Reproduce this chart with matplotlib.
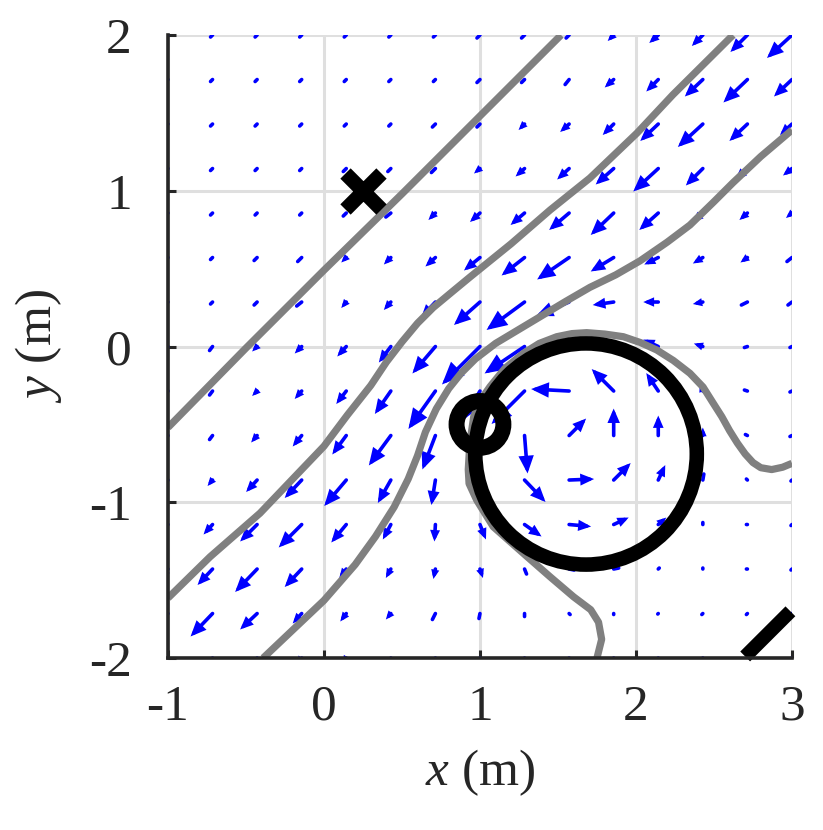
import numpy as np
import matplotlib
matplotlib.use("Agg")
import matplotlib.pyplot as plt
from matplotlib.patches import Circle, FancyArrowPatch, ArrowStyle

plt.rcParams['font.family'] = 'Liberation Serif'
plt.rcParams['mathtext.fontset'] = 'custom'
plt.rcParams['mathtext.rm'] = 'Liberation Serif'
plt.rcParams['mathtext.it'] = 'Liberation Serif:italic'
plt.rcParams['axes.unicode_minus'] = False

# grille du champ de vitesse
gx = np.linspace(-1, 3, 15)
gy = np.linspace(-2, 2, 15)
echelle = 156.0  # unites de vecteur par metre affiche

# composantes, lignes de y=2 (haut) a y=-2 (bas)
U_rows = [
    [-1, -2, -2, -2, -2, -2, -2, -3, -3, -3, -6, -9, -11, -17, -25],
    [-1, -2, -2, -2, -2, -2, -2, -3, -3, -4, -9, -12, -18, -24, -18],
    [-1, -2, -2, -2, -2, -2, -3, -3, -6, -9, -11, -18, -25, -18, -12],
    [-1, -2, -2, -2, -3, -3, -4, -6, -9, -12, -18, -25, -17, -12, -9],
    [-1, -2, -2, -2, -3, -5, -7, -10, -14, -20, -23, -19, -10, -8, -6],
    [-2, -2, -3, -4, -5, -7, -10, -16, -23, -32, -23, -14, -10, -7, -5],
    [-2, -2, -3, -5, -5, -7, -14, -26, -38, -33, -21, -15, -10, -6, -4],
    [-2, -3, -5, -7, -9, -12, -23, -38, -40, -22, -20, -15, -9, -3, -2],
    [-2, -3, -5, -7, -10, -16, -27, -17, -33, -38, -22, -12, -3, -3, -2],
    [-2, -3, -6, -9, -14, -22, -13, -3, 3, 17, 0, 0, 0, -2, -2],
    [-2, -5, -11, -17, -22, -13, -4, -2, 21, 25, 17, 7, 1, -1, -1],
    [-3, -9, -17, -23, -15, -8, -1, 6, 17, 22, 15, 8, 0, -1, -1],
    [-8, -15, -22, -17, -7, -5, -2, 3, 2, 5, 5, 1, 0, -1, -1],
    [-15, -22, -17, -9, -6, -5, -3, -1, 0, 1, 0, -0.5, -1, -1, -1],
    [-20, -15, -9, -6, -4, -3, -2, -1, 0, 0, 0, 0, -1, -1, -1],
]
V_rows = [
    [-1, -2, -2, -2, -2, -2, -2, -3, -3, -3, -6, -8, -11, -17, -23],
    [-1, -2, -2, -2, -2, -2, -2, -3, -3, -5, -8, -12, -17, -23, -17],
    [-1, -2, -2, -2, -2, -2, -3, -3, -6, -8, -11, -17, -23, -17, -11],
    [-1, -2, -2, -2, -3, -3, -4, -5, -8, -11, -16, -23, -17, -11, -7],
    [-1, -2, -2, -2, -3, -4, -7, -9, -12, -17, -22, -17, -9, -7, -5],
    [-2, -2, -3, -4, -5, -7, -9, -13, -18, -22, -14, -7, -6, -5, -4],
    [-2, -2, -3, -4, -6, -8, -15, -23, -28, -14, -3, 0, -2, -3, -3],
    [-3, -4, -5, -7, -10, -16, -27, -38, -27, -2, 2, 7, 3, -1, -1],
    [-3, -4, -5, -8, -13, -23, -38, -29, -33, 2, 22, 18, 8, 1, -1],
    [-3, -4, -7, -11, -19, -30, -34, -18, -38, 17, 27, 20, 8, 1, -1],
    [-3, -6, -12, -18, -26, -23, -25, -20, -22, 1, 17, 15, 6, 1, -1],
    [-3, -10, -17, -23, -18, -15, -17, -15, -12, -2, 7, 7, 2, 0, -1],
    [-8, -16, -23, -18, -9, -9, -10, -9, -5, -1, 1, 1, 1, 0, -1],
    [-15, -23, -16, -10, -8, -6, -6, -5, -3, -1, -1, -0.5, -1, -1, -1],
    [-20, -15, -10, -7, -6, -4, -3, -3, -2, -1, -1, -1, -1, -1, -1],
]

# lignes de niveau (grises)
ligneA_x = [-1.0, -0.5, 0.0, 0.5, 1.0, 1.52]
ligneA_y = [-0.52, -0.01, 0.49, 0.98, 1.48, 2.0]
ligneB_x = [-1.0, -0.73, -0.41, 0.0, 0.15, 0.3, 0.4, 0.5, 0.6, 0.7, 0.82, 0.936, 1.2, 1.449,
            1.705, 2.006, 2.237, 2.622]
ligneB_y = [-1.615, -1.35, -1.07, -0.64, -0.44, -0.25, -0.10, 0.03, 0.15, 0.25, 0.35, 0.446, 0.66, 0.876,
            1.082, 1.37, 1.617, 2.0]
ligneC_x = [-0.39, 0.0, 0.2, 0.33, 0.45, 0.54, 0.6, 0.65, 0.72, 0.8, 0.88, 0.97, 1.1, 1.25, 1.4,
            1.55, 1.705, 1.87, 2.026, 2.2, 2.346, 2.5, 2.62, 2.8, 3.0]
ligneC_y = [-2.0, -1.63, -1.4, -1.22, -1.03, -0.85, -0.70, -0.55, -0.40, -0.27, -0.17, -0.08, 0.02, 0.11, 0.2,
            0.29, 0.38, 0.46, 0.55, 0.67, 0.78, 0.93, 1.05, 1.22, 1.39]
ligneD_x = [1.75, 1.78, 1.76, 1.71, 1.6, 1.449, 1.278, 1.085, 0.979, 0.93, 0.925, 0.935, 0.96, 1.0, 1.064,
            1.16, 1.278, 1.38, 1.492, 1.59, 1.684, 1.8, 1.919, 2.03, 2.133, 2.24, 2.346, 2.43, 2.496,
            2.55, 2.6, 2.65, 2.70, 2.75, 2.80, 2.87, 2.94, 3.0]
ligneD_y = [-2.0, -1.88, -1.77, -1.69, -1.607, -1.478, -1.328, -1.157, -0.986, -0.88, -0.79, -0.62, -0.45,
            -0.35, -0.258, -0.14, -0.044, 0.02, 0.063, 0.083, 0.089, 0.08, 0.063, 0.025, -0.022, -0.09, -0.172,
            -0.26, -0.365, -0.45, -0.54, -0.62, -0.69, -0.745, -0.778, -0.79, -0.775, -0.75]

# obstacles
obs_centre = (1.68, -0.69)
obs_rayon = 0.71
robot_centre = (1.0, -0.5)
robot_rayon = 0.15
depart = (0.25, 1.0)
but_x = [2.70, 2.99]
but_y = [-1.99, -1.70]

U = np.array(U_rows[::-1], dtype=float)
V = np.array(V_rows[::-1], dtype=float)
X, Y = np.meshgrid(gx, gy)

fig = plt.figure(figsize=(8.23, 8.30), dpi=100)
ax = fig.add_axes([0.2041, 0.2072, 0.7582, 0.7506])
ax.set_xlim(-1, 3)
ax.set_ylim(-2, 2)

# fleches type MATLAB : tete proportionnelle a la longueur, trait constant
tete = ArrowStyle('-|>', head_length=0.3, head_width=0.13)
trait = ArrowStyle('-')
for j in range(len(gy)):
    for i in range(len(gx)):
        x0, y0 = X[j, i], Y[j, i]
        x1, y1 = x0 + U[j, i] / echelle, y0 + V[j, i] / echelle
        p = ax.transData.transform([(x0, y0), (x1, y1)])
        Lpx = np.hypot(*(p[1] - p[0]))
        st = tete if Lpx > 7 else trait
        fl = FancyArrowPatch((x0, y0), (x1, y1), arrowstyle=st, mutation_scale=Lpx * 72.0 / fig.dpi,
                             color=(0, 0, 1), lw=2.6, shrinkA=0, shrinkB=0,
                             capstyle='round', joinstyle='miter', zorder=2)
        ax.add_patch(fl)

gris = (0.5, 0.5, 0.5)
for lx, ly in [(ligneA_x, ligneA_y), (ligneB_x, ligneB_y), (ligneC_x, ligneC_y), (ligneD_x, ligneD_y)]:
    ax.plot(lx, ly, color=gris, lw=5.2, solid_joinstyle='round', solid_capstyle='butt', zorder=3)

ax.add_patch(Circle(obs_centre, obs_rayon, fill=False, ec='k', lw=10.5, zorder=4))
ax.add_patch(Circle(robot_centre, robot_rayon, fill=False, ec='k', lw=11.5, zorder=4))
ax.plot([depart[0]], [depart[1]], marker='x', color='k', ms=26, mew=10.5, zorder=5)
ax.plot(but_x, but_y, color='k', lw=10, solid_capstyle='butt', clip_on=False, zorder=5)

ax.set_xticks([-1, 0, 1, 2, 3])
ax.set_yticks([-2, -1, 0, 1, 2])
ax.grid(True, color='#dfdfdf', lw=2.2)
ax.set_axisbelow(True)
for s in ['top', 'right']:
    ax.spines[s].set_visible(False)
for s in ['left', 'bottom']:
    ax.spines[s].set_linewidth(2.6)
    ax.spines[s].set_color('#262626')
    ax.spines[s].set_zorder(6)
ax.tick_params(direction='in', length=6, width=2.2, color='#262626', labelcolor='#262626',
               labelsize=37, pad=19)
ax.tick_params(axis='y', pad=26)
ax.set_xlabel(r'$x$ (m)', fontsize=37, color='#262626', labelpad=12)
ax.set_ylabel(r'$y$ (m)', fontsize=37, color='#262626', labelpad=18)

fig.savefig('out.png', dpi=100)
